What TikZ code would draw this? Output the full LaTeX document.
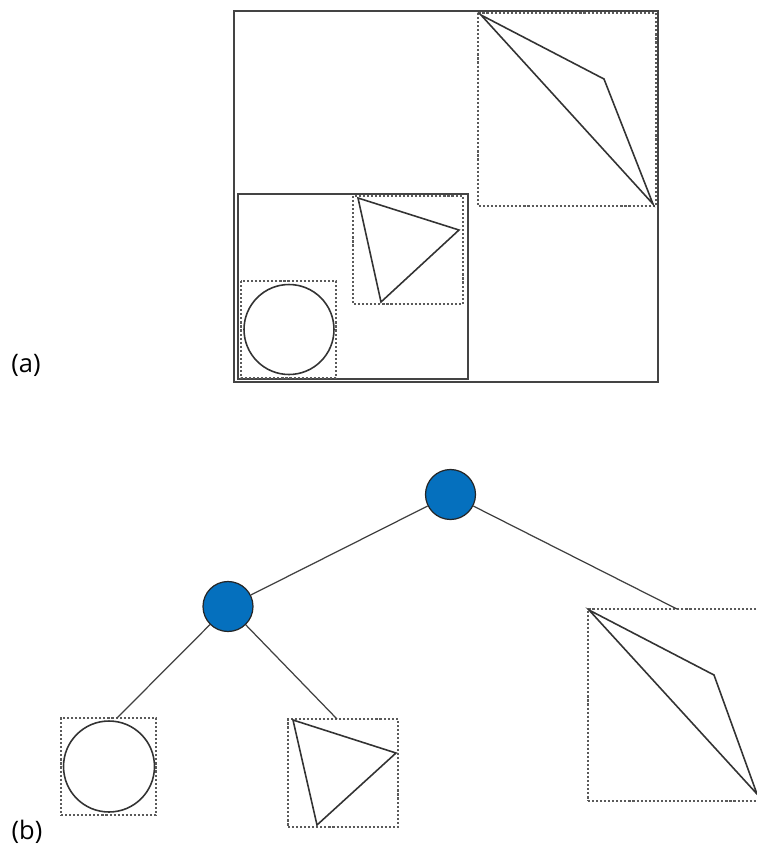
\documentclass[tikz,border=0pt]{standalone}
\usepackage{fontspec}
\setmainfont{Open Sans}
\usetikzlibrary{positioning}
\definecolor{nodeblue}{HTML}{0570BE}
\definecolor{frame}{HTML}{444444}
\definecolor{dots}{HTML}{5A5A5A}

\begin{document}
\begin{tikzpicture}[x=0.02cm,y=-0.02cm,
      outer/.style={draw=frame,line width=1pt},
      bbox/.style={draw=dots,line width=1pt,dash pattern=on 1.2pt off 1.1pt},
      leafbox/.style={bbox,inner sep=0pt,outer sep=0pt},
      geom/.style={draw=black!80,line width=.9pt},
      inner/.style={circle,draw=black!85,fill=nodeblue,line width=.7pt,
                    minimum size=1cm,inner sep=0pt},
      edge/.style={draw=black!75,line width=.7pt},
      tag/.style={font=\fontsize{14.5}{16}\selectfont,inner sep=0pt}]
    \useasboundingbox (0,0) rectangle (757,846);

    % (a) nested bounding boxes
    \node[tag] (taga) at (26,365) {(a)};
    \draw[outer] (234,11) rectangle (658,382);
    \draw[outer] (238,194) rectangle (468,379);
    \draw[bbox] (478,13) rectangle (656,206);
    \draw[geom] (481,15) -- (604,79) -- (653,204) -- cycle;
    \draw[bbox] (353,196) rectangle (463,304);
    \draw[geom] (358,198) -- (459,230) -- (381,302) -- cycle;
    \draw[bbox] (241,281) rectangle (336,378);
    \draw[geom] (289,329.5) circle[radius=0.9cm];

    % (b) the tree
    \node[tag] (tagb) at (27,832) {(b)};
    \node[inner] (root) at (450.5,494.5) {};
    \node[inner] (mid) at (228,606.5) {};
    \node[leafbox,minimum width=1.9cm,minimum height=1.94cm] (cbox) at (108.5,766.5) {};
    \node[circle,geom,minimum size=1.82cm,inner sep=0pt] (cleaf) at (109,766.5) {};
    \node[leafbox,minimum width=2.2cm,minimum height=2.16cm] (tbox) at (343,773) {};
    \draw[geom] (293,720) -- (396,753) -- (317,825) -- cycle;
    \node[leafbox,minimum width=3.4cm,minimum height=3.84cm] (pbox) at (673,705) {};
    \draw[geom] (589,610) -- (714,675) -- (757,794) -- cycle;

    \draw[edge] (root) -- (mid);
    \draw[edge] (root) -- ([xshift=0.08cm]pbox.north);
    \draw[edge] (mid) -- ([xshift=0.17cm]cbox.north);
    \draw[edge] (mid) -- ([xshift=-0.12cm]tbox.north);
\end{tikzpicture}
\end{document}
